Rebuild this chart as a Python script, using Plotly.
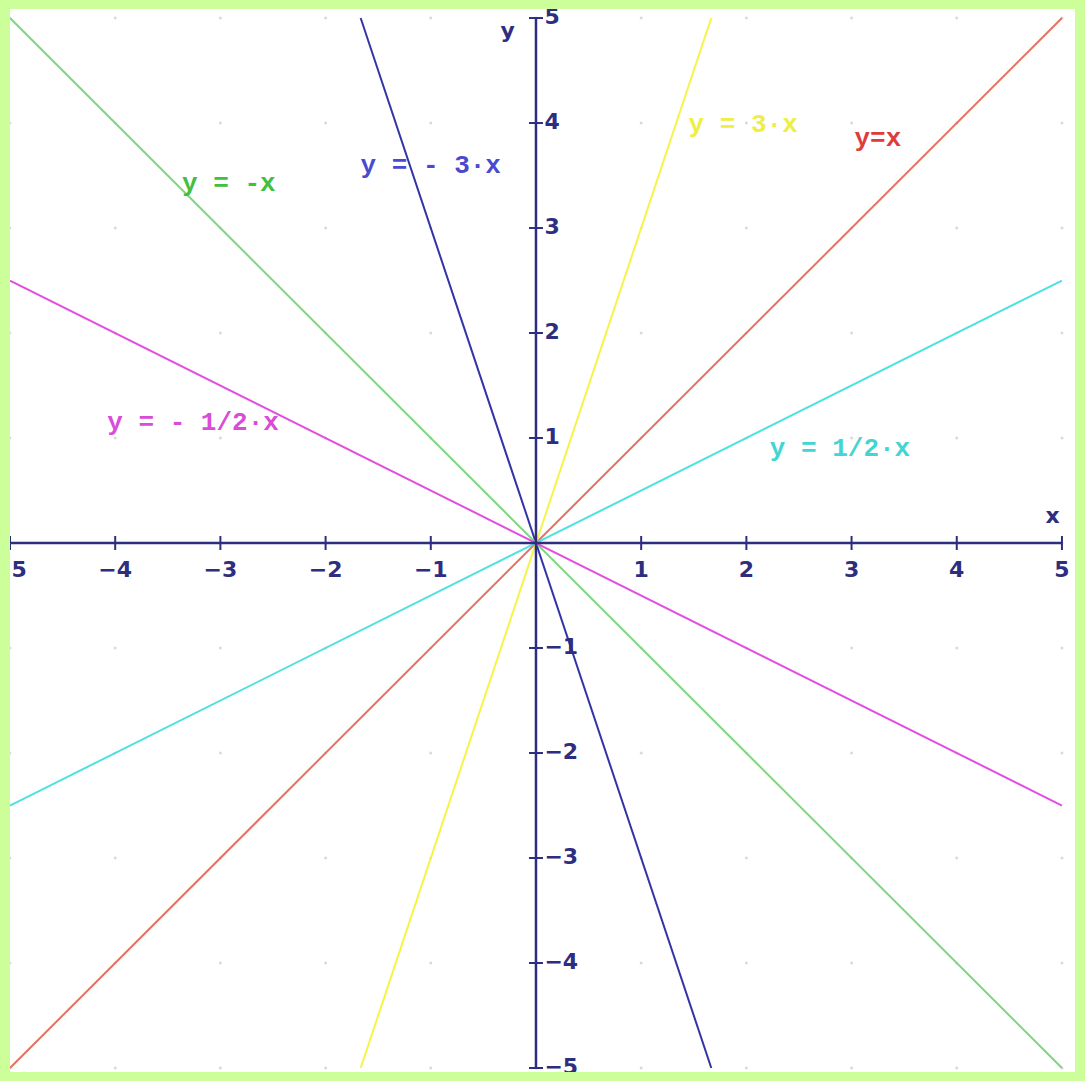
import plotly.graph_objects as go

# ---- data ----
slopes = [1, 3, -3, -1, 0.5, -0.5]
line_names = ["y=x", "y = 3·x", "y = - 3·x", "y = -x", "y = 1/2·x", "y = - 1/2·x"]
line_colors = ["#e4725e", "#f4f44a", "#3333a6", "#7ed67e", "#4fe0e0", "#e24ee2"]
label_colors = ["#e03a3a", "#eeee44", "#4a4ad0", "#40c040", "#44d4d4", "#d84cd8"]
label_x = [3.25, 1.97, -1.0, -2.92, 2.89, -3.26]
label_y = [3.84, 3.98, 3.59, 3.41, 0.89, 1.14]
tick_vals = [-5, -4, -3, -2, -1, 1, 2, 3, 4, 5]
tick_text = ["−5", "−4", "−3", "−2", "−1", "1", "2", "3", "4", "5"]
grid_vals = [-5, -4, -3, -2, -1, 0, 1, 2, 3, 4, 5]
LIM = 5

AXIS = "#2e2e80"

fig = go.Figure()

# grid dots
gx = [x for x in grid_vals for y in grid_vals]
gy = [y for x in grid_vals for y in grid_vals]
fig.add_trace(go.Scatter(x=gx, y=gy, mode="markers",
                         marker=dict(size=3, color="#dadada"), hoverinfo="skip"))

# lines through origin, clipped to the square
for m, c in zip(slopes, line_colors):
    xe = min(LIM, LIM / abs(m))
    fig.add_trace(go.Scatter(x=[-xe, xe], y=[-xe * m, xe * m], mode="lines",
                             line=dict(color=c, width=2), hoverinfo="skip"))

# axes
fig.add_trace(go.Scatter(x=[-LIM, LIM], y=[0, 0], mode="lines",
                         line=dict(color=AXIS, width=2.5), hoverinfo="skip"))
fig.add_trace(go.Scatter(x=[0, 0], y=[-LIM, LIM], mode="lines",
                         line=dict(color=AXIS, width=2.5), hoverinfo="skip"))
# tick marks
fig.add_trace(go.Scatter(x=tick_vals, y=[0] * len(tick_vals), mode="markers",
                         marker=dict(symbol="line-ns", size=10,
                                     line=dict(color=AXIS, width=2)),
                         hoverinfo="skip"))
fig.add_trace(go.Scatter(x=[0] * len(tick_vals), y=tick_vals, mode="markers",
                         marker=dict(symbol="line-ew", size=10,
                                     line=dict(color=AXIS, width=2)),
                         hoverinfo="skip"))

tick_font = dict(family="DejaVu Sans", size=22, color=AXIS, weight="bold")
# x tick labels
fig.add_trace(go.Scatter(x=tick_vals, y=[-0.27] * len(tick_vals), mode="text",
                         text=tick_text, textposition="middle center",
                         textfont=tick_font, hoverinfo="skip"))
# y tick labels
fig.add_trace(go.Scatter(x=[0.08] * len(tick_vals), y=tick_vals, mode="text",
                         text=tick_text, textposition="middle right",
                         textfont=tick_font, hoverinfo="skip"))
# axis names
fig.add_trace(go.Scatter(x=[4.91, -0.27], y=[0.24, 4.86], mode="text",
                         text=["x", "y"], textposition="middle center",
                         textfont=tick_font, hoverinfo="skip"))

# equation labels
for name, c, lx, ly in zip(line_names, label_colors, label_x, label_y):
    fig.add_trace(go.Scatter(x=[lx], y=[ly], mode="text", text=[name],
                             textposition="middle center",
                             textfont=dict(family="Liberation Mono", size=26,
                                           color=c, weight="bold"),
                             hoverinfo="skip"))

fig.update_xaxes(range=[-5, 5.124], visible=False, fixedrange=True)
fig.update_yaxes(range=[-5.038, 5.086], visible=False, fixedrange=True)
fig.update_layout(
    width=1085, height=1081,
    margin=dict(l=10, r=10, t=9, b=9),
    paper_bgcolor="#ccff99",
    plot_bgcolor="#ffffff",
    showlegend=False,
)

fig.write_html(
    "out.html",
    config={"displayModeBar": False},
    post_script="document.body.style.margin='0';document.body.style.background='#ccff99';",
)
